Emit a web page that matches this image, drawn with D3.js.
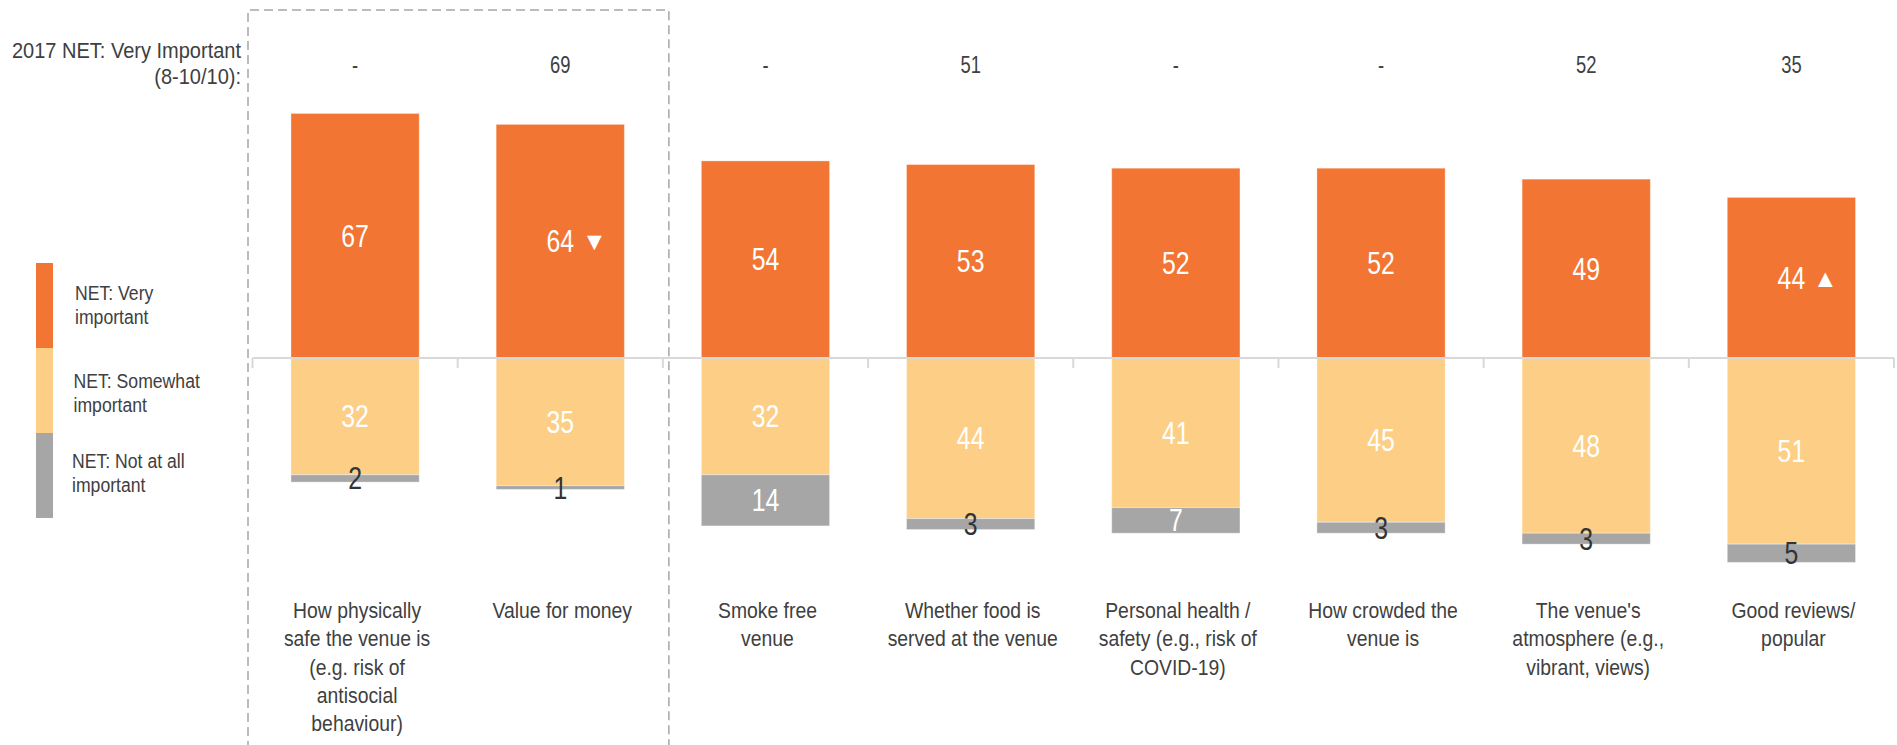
<!DOCTYPE html>
<html>
<head>
<meta charset="utf-8">
<script src="https://cdn.jsdelivr.net/npm/d3@7"></script>
<style>
  html, body { margin: 0; padding: 0; background: #fff; }
  svg { display: block; }
  text { font-family: "Liberation Sans", Arial, sans-serif; }
</style>
</head>
<body>
<svg id="chart" width="1897" height="745"></svg>
<script>
// ---------- data ----------
const categories = [
  "How physically safe the venue is (e.g. risk of antisocial behaviour)",
  "Value for money",
  "Smoke free venue",
  "Whether food is served at the venue",
  "Personal health / safety (e.g., risk of COVID-19)",
  "How crowded the venue is",
  "The venue's atmosphere (e.g., vibrant, views)",
  "Good reviews/ popular"
];
const categoryLines = [
  ["How physically", "safe the venue is", "(e.g. risk of", "antisocial", "behaviour)"],
  ["Value for money"],
  ["Smoke free", "venue"],
  ["Whether food is", "served at the venue"],
  ["Personal health /", "safety (e.g., risk of", "COVID-19)"],
  ["How crowded the", "venue is"],
  ["The venue's", "atmosphere (e.g.,", "vibrant, views)"],
  ["Good reviews/", "popular"]
];
const veryImportant     = [67, 64, 54, 53, 52, 52, 49, 44];
const somewhatImportant = [32, 35, 32, 44, 41, 45, 48, 51];
const notAtAllImportant = [2, 1, 14, 3, 7, 3, 3, 5];
const net2017           = ["-", "69", "-", "51", "-", "-", "52", "35"];
const significance      = ["", "down", "", "", "", "", "", "up"];
const seriesNames = ["NET: Very important", "NET: Somewhat important", "NET: Not at all important"];
const seriesLegendLines = [["NET: Very", "important"], ["NET: Somewhat", "important"], ["NET: Not at all", "important"]];
const rowLabelLines = ["2017 NET: Very Important", "(8-10/10):"];

// ---------- styles ----------
const colors = ["#F27533", "#FDCF86", "#A6A6A6"];
const textDark = "#404040";

const svg = d3.select("#chart");

const x = d3.scaleBand().domain(categories).range([252.5, 1894]).paddingInner(0.375).paddingOuter(0.1875);
const y = d3.scaleLinear().domain([0, 100]).range([358, -7]); // 3.65 px per point

// helper: horizontally condensed text block
function textBlock(parent, tx, ty, lines, opt) {
  const g = parent.append("g").attr("transform", `translate(${tx},${ty}) scale(${opt.sx},1)`);
  const t = g.append("text")
    .attr("text-anchor", opt.anchor || "middle")
    .attr("font-size", opt.size)
    .attr("fill", opt.fill || textDark);
  lines.forEach((l, i) => {
    t.append("tspan").attr("x", 0).attr("y", i * (opt.lh || 0)).text(l);
  });
  return t;
}

// dashed highlight box around the first two categories
const boxX0 = x.range()[0] - 4.5;
const boxX1 = x.range()[0] + 2 * x.step() + 6;
svg.append("path")
  .attr("d", `M${boxX0},750 V10 H${boxX1} V750`)
  .attr("fill", "none").attr("stroke", "#A6A6A6").attr("stroke-width", 1.5)
  .attr("stroke-dasharray", "9,5");

// bars
const stackData = categories.map((c, i) => ({
  c, i,
  segs: [
    { s: 0, v: veryImportant[i], y0: 0, y1: veryImportant[i] },
    { s: 1, v: somewhatImportant[i], y0: -somewhatImportant[i], y1: 0 },
    { s: 2, v: notAtAllImportant[i], y0: -(somewhatImportant[i] + notAtAllImportant[i]), y1: -somewhatImportant[i] }
  ]
}));

const bars = svg.append("g").selectAll("g").data(stackData).join("g");
bars.selectAll("rect").data(d => d.segs.map(s => ({ ...s, c: d.c }))).join("rect")
  .attr("x", d => x(d.c))
  .attr("width", x.bandwidth())
  .attr("y", d => y(d.y1))
  .attr("height", d => y(d.y0) - y(d.y1))
  .attr("fill", d => colors[d.s])
  .attr("stroke", "#ffffff").attr("stroke-opacity", 0.35).attr("stroke-width", 1);

// axis baseline with ticks at band boundaries
const axisG = svg.append("g");
const r = x.range();
axisG.append("line").attr("x1", r[0]).attr("x2", r[1]).attr("y1", y(0)).attr("y2", y(0))
  .attr("stroke", "#D9D9D9").attr("stroke-width", 2);
const bounds = d3.range(categories.length + 1).map(k => r[0] + k * x.step());
axisG.selectAll("line.tick").data(bounds).join("line").attr("class", "tick")
  .attr("x1", d => d).attr("x2", d => d).attr("y1", y(0)).attr("y2", y(0) + 10)
  .attr("stroke", "#D9D9D9").attr("stroke-width", 2);

// value labels
stackData.forEach(d => {
  const cx = x(d.c) + x.bandwidth() / 2;
  d.segs.forEach(s => {
    const cy = (y(s.y0) + y(s.y1)) / 2;
    const white = s.s < 2 || s.v >= 6;
    textBlock(svg, cx, cy, [String(s.v)], { sx: 0.8, size: 31, fill: white ? "#ffffff" : "#333333" })
      .attr("dominant-baseline", "central");
  });
  if (significance[d.i]) {
    const cy = (y(d.segs[0].y0) + y(d.segs[0].y1)) / 2;
    svg.append("text")
      .attr("x", cx + 34).attr("y", cy)
      .attr("text-anchor", "middle").attr("dominant-baseline", "central")
      .attr("font-family", "'DejaVu Sans', sans-serif")
      .attr("font-size", 25).attr("fill", "#ffffff")
      .text(significance[d.i] === "up" ? "▲" : "▼");
  }
});

// 2017 row
categories.forEach((c, i) => {
  textBlock(svg, x(c) + x.bandwidth() / 2, 73, [net2017[i]], { sx: 0.8, size: 23 });
});
textBlock(svg, 241, 58, rowLabelLines, { sx: 0.91, size: 22, lh: 26, anchor: "end" });

// category labels
categories.forEach((c, i) => {
  textBlock(svg, x(c) + x.bandwidth() / 2 + 2, 618, categoryLines[i], { sx: 0.88, size: 22, lh: 28.3 });
});

// legend
const legTop = 263, legH = 85;
seriesNames.forEach((n, i) => {
  svg.append("rect").attr("x", 36).attr("y", legTop + i * legH).attr("width", 17).attr("height", legH)
    .attr("fill", colors[i]);
  textBlock(svg, 75 - i * 1.5, legTop + i * legH + 37 + (i === 1 ? 3 : 0) + (i === 2 ? -2 : 0), seriesLegendLines[i],
    { sx: 0.84, size: 21, lh: 24.5, anchor: "start" });
});
</script>
</body>
</html>
